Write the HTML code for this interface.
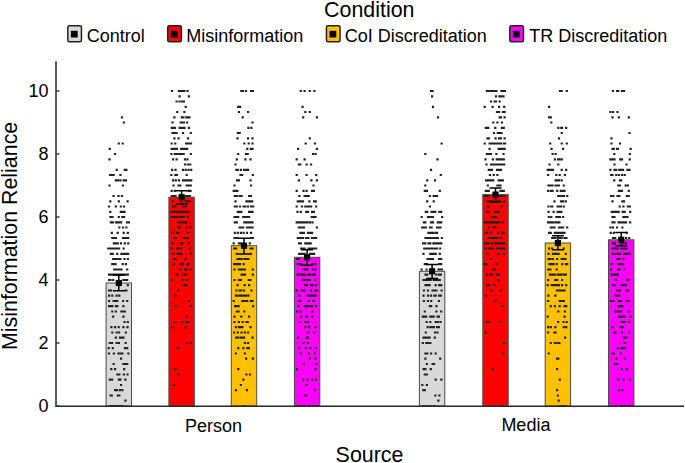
<!DOCTYPE html>
<html><head><meta charset="utf-8"><style>
html,body{margin:0;padding:0;background:#fff;width:685px;height:463px;overflow:hidden}
svg text{font-family:"Liberation Sans",sans-serif;fill:#000}
</style></head><body>
<svg width="685" height="463" viewBox="0 0 685 463" style="position:absolute;left:0;top:0"><rect x="106.10" y="283.00" width="25.4" height="123.00" fill="#d9d9d9" stroke="#4a4a4a" stroke-width="1"/><rect x="168.90" y="197.20" width="25.4" height="208.80" fill="#ff0000" stroke="#4a4a4a" stroke-width="1"/><rect x="231.30" y="245.70" width="25.4" height="160.30" fill="#ffc000" stroke="#4a4a4a" stroke-width="1"/><rect x="294.40" y="257.30" width="25.4" height="148.70" fill="#ff00ff" stroke="#4a4a4a" stroke-width="1"/><rect x="419.40" y="271.30" width="25.4" height="134.70" fill="#d9d9d9" stroke="#4a4a4a" stroke-width="1"/><rect x="482.80" y="194.60" width="25.4" height="211.40" fill="#ff0000" stroke="#4a4a4a" stroke-width="1"/><rect x="545.20" y="243.00" width="25.4" height="163.00" fill="#ffc000" stroke="#4a4a4a" stroke-width="1"/><rect x="608.50" y="239.80" width="25.4" height="166.20" fill="#ff00ff" stroke="#4a4a4a" stroke-width="1"/><path d="M120.9 116.2h2.2v2.2h-2.2zM122.7 121.4h2.2v2.2h-2.2zM117.7 142.4h2.2v2.2h-2.2zM121.6 142.4h2.2v2.2h-2.2zM108.7 147.7h2.2v2.2h-2.2zM113.9 152.9h2.2v2.2h-2.2zM108.4 158.2h2.2v2.2h-2.2zM115.6 168.7h2.2v2.2h-2.2zM123.7 168.7h2.2v2.2h-2.2zM125.3 168.7h2.2v2.2h-2.2zM109.0 173.9h2.2v2.2h-2.2zM110.7 173.9h2.2v2.2h-2.2zM112.5 173.9h2.2v2.2h-2.2zM119.3 173.9h2.2v2.2h-2.2zM114.8 179.2h2.2v2.2h-2.2zM116.9 179.2h2.2v2.2h-2.2zM119.3 179.2h2.2v2.2h-2.2zM122.6 179.2h2.2v2.2h-2.2zM124.8 179.2h2.2v2.2h-2.2zM108.4 184.4h2.2v2.2h-2.2zM121.8 184.4h2.2v2.2h-2.2zM112.5 194.9h2.2v2.2h-2.2zM117.4 194.9h2.2v2.2h-2.2zM120.9 194.9h2.2v2.2h-2.2zM109.2 200.2h2.2v2.2h-2.2zM117.7 200.2h2.2v2.2h-2.2zM126.5 200.2h2.2v2.2h-2.2zM107.9 205.4h2.2v2.2h-2.2zM114.7 205.4h2.2v2.2h-2.2zM119.7 205.4h2.2v2.2h-2.2zM122.9 205.4h2.2v2.2h-2.2zM109.2 210.7h2.2v2.2h-2.2zM119.7 210.7h2.2v2.2h-2.2zM121.6 210.7h2.2v2.2h-2.2zM123.4 210.7h2.2v2.2h-2.2zM109.4 215.9h2.2v2.2h-2.2zM111.4 215.9h2.2v2.2h-2.2zM117.7 215.9h2.2v2.2h-2.2zM121.2 215.9h2.2v2.2h-2.2zM123.0 215.9h2.2v2.2h-2.2zM109.8 221.2h2.2v2.2h-2.2zM111.7 221.2h2.2v2.2h-2.2zM114.8 221.2h2.2v2.2h-2.2zM116.6 221.2h2.2v2.2h-2.2zM118.2 221.2h2.2v2.2h-2.2zM120.0 221.2h2.2v2.2h-2.2zM126.1 221.2h2.2v2.2h-2.2zM127.8 221.2h2.2v2.2h-2.2zM118.2 226.4h2.2v2.2h-2.2zM122.0 226.4h2.2v2.2h-2.2zM125.3 226.4h2.2v2.2h-2.2zM110.7 231.7h2.2v2.2h-2.2zM116.6 231.7h2.2v2.2h-2.2zM122.6 231.7h2.2v2.2h-2.2zM126.7 231.7h2.2v2.2h-2.2zM111.2 236.9h2.2v2.2h-2.2zM112.8 236.9h2.2v2.2h-2.2zM114.8 236.9h2.2v2.2h-2.2zM122.0 236.9h2.2v2.2h-2.2zM123.7 236.9h2.2v2.2h-2.2zM125.3 236.9h2.2v2.2h-2.2zM127.1 236.9h2.2v2.2h-2.2zM112.8 242.2h2.2v2.2h-2.2zM114.4 242.2h2.2v2.2h-2.2zM116.6 242.2h2.2v2.2h-2.2zM119.9 242.2h2.2v2.2h-2.2zM123.7 242.2h2.2v2.2h-2.2zM127.2 242.2h2.2v2.2h-2.2zM107.3 247.4h2.2v2.2h-2.2zM109.0 247.4h2.2v2.2h-2.2zM110.7 247.4h2.2v2.2h-2.2zM112.5 247.4h2.2v2.2h-2.2zM114.4 247.4h2.2v2.2h-2.2zM116.2 247.4h2.2v2.2h-2.2zM118.0 247.4h2.2v2.2h-2.2zM122.6 247.4h2.2v2.2h-2.2zM109.8 252.7h2.2v2.2h-2.2zM111.7 252.7h2.2v2.2h-2.2zM116.2 252.7h2.2v2.2h-2.2zM120.3 252.7h2.2v2.2h-2.2zM122.0 252.7h2.2v2.2h-2.2zM123.7 252.7h2.2v2.2h-2.2zM125.3 252.7h2.2v2.2h-2.2zM127.1 252.7h2.2v2.2h-2.2zM112.1 257.9h2.2v2.2h-2.2zM113.9 257.9h2.2v2.2h-2.2zM115.5 257.9h2.2v2.2h-2.2zM117.5 257.9h2.2v2.2h-2.2zM119.3 257.9h2.2v2.2h-2.2zM123.4 257.9h2.2v2.2h-2.2zM126.7 257.9h2.2v2.2h-2.2zM111.2 263.1h2.2v2.2h-2.2zM113.1 263.1h2.2v2.2h-2.2zM114.4 263.1h2.2v2.2h-2.2zM121.6 263.1h2.2v2.2h-2.2zM124.8 263.1h2.2v2.2h-2.2zM113.1 268.4h2.2v2.2h-2.2zM114.8 268.4h2.2v2.2h-2.2zM116.9 268.4h2.2v2.2h-2.2zM118.9 268.4h2.2v2.2h-2.2zM120.3 268.4h2.2v2.2h-2.2zM126.1 268.4h2.2v2.2h-2.2zM108.0 273.6h2.2v2.2h-2.2zM109.8 273.6h2.2v2.2h-2.2zM111.4 273.6h2.2v2.2h-2.2zM113.1 273.6h2.2v2.2h-2.2zM114.8 273.6h2.2v2.2h-2.2zM116.6 273.6h2.2v2.2h-2.2zM118.2 273.6h2.2v2.2h-2.2zM120.3 273.6h2.2v2.2h-2.2zM122.0 273.6h2.2v2.2h-2.2zM123.7 273.6h2.2v2.2h-2.2zM125.3 273.6h2.2v2.2h-2.2zM126.7 273.6h2.2v2.2h-2.2zM108.0 278.9h2.2v2.2h-2.2zM109.4 278.9h2.2v2.2h-2.2zM112.1 278.9h2.2v2.2h-2.2zM122.3 278.9h2.2v2.2h-2.2zM124.4 278.9h2.2v2.2h-2.2zM126.1 278.9h2.2v2.2h-2.2zM126.7 284.1h2.2v2.2h-2.2zM108.0 289.4h2.2v2.2h-2.2zM109.8 289.4h2.2v2.2h-2.2zM124.4 289.4h2.2v2.2h-2.2zM125.3 289.4h2.2v2.2h-2.2zM108.0 294.6h2.2v2.2h-2.2zM111.2 294.6h2.2v2.2h-2.2zM115.5 294.6h2.2v2.2h-2.2zM118.2 294.6h2.2v2.2h-2.2zM108.0 299.9h2.2v2.2h-2.2zM112.5 299.9h2.2v2.2h-2.2zM114.4 299.9h2.2v2.2h-2.2zM116.2 299.9h2.2v2.2h-2.2zM122.0 299.9h2.2v2.2h-2.2zM126.1 299.9h2.2v2.2h-2.2zM108.0 305.1h2.2v2.2h-2.2zM109.8 305.1h2.2v2.2h-2.2zM111.2 305.1h2.2v2.2h-2.2zM114.8 305.1h2.2v2.2h-2.2zM116.2 305.1h2.2v2.2h-2.2zM122.3 305.1h2.2v2.2h-2.2zM111.2 310.4h2.2v2.2h-2.2zM114.8 310.4h2.2v2.2h-2.2zM120.3 310.4h2.2v2.2h-2.2zM122.0 310.4h2.2v2.2h-2.2zM123.7 310.4h2.2v2.2h-2.2zM112.1 315.6h2.2v2.2h-2.2zM122.3 315.6h2.2v2.2h-2.2zM123.4 320.9h2.2v2.2h-2.2zM126.7 320.9h2.2v2.2h-2.2zM110.3 326.1h2.2v2.2h-2.2zM113.9 326.1h2.2v2.2h-2.2zM117.5 326.1h2.2v2.2h-2.2zM122.3 326.1h2.2v2.2h-2.2zM126.4 326.1h2.2v2.2h-2.2zM111.2 331.4h2.2v2.2h-2.2zM115.5 331.4h2.2v2.2h-2.2zM118.0 331.4h2.2v2.2h-2.2zM124.8 331.4h2.2v2.2h-2.2zM114.8 336.6h2.2v2.2h-2.2zM118.9 336.6h2.2v2.2h-2.2zM120.9 336.6h2.2v2.2h-2.2zM122.3 336.6h2.2v2.2h-2.2zM108.7 341.9h2.2v2.2h-2.2zM111.0 341.9h2.2v2.2h-2.2zM115.5 341.9h2.2v2.2h-2.2zM117.8 341.9h2.2v2.2h-2.2zM124.6 341.9h2.2v2.2h-2.2zM107.6 347.1h2.2v2.2h-2.2zM111.7 347.1h2.2v2.2h-2.2zM123.8 347.1h2.2v2.2h-2.2zM126.1 347.1h2.2v2.2h-2.2zM107.9 352.4h2.2v2.2h-2.2zM112.8 352.4h2.2v2.2h-2.2zM117.3 352.4h2.2v2.2h-2.2zM119.3 352.4h2.2v2.2h-2.2zM121.3 352.4h2.2v2.2h-2.2zM127.3 352.4h2.2v2.2h-2.2zM120.0 357.6h2.2v2.2h-2.2zM112.5 362.9h2.2v2.2h-2.2zM122.3 362.9h2.2v2.2h-2.2zM124.3 362.9h2.2v2.2h-2.2zM126.1 362.9h2.2v2.2h-2.2zM110.2 368.1h2.2v2.2h-2.2zM114.0 368.1h2.2v2.2h-2.2zM123.1 368.1h2.2v2.2h-2.2zM116.3 373.4h2.2v2.2h-2.2zM118.2 373.4h2.2v2.2h-2.2zM122.8 373.4h2.2v2.2h-2.2zM126.4 373.4h2.2v2.2h-2.2zM108.7 378.6h2.2v2.2h-2.2zM111.0 378.6h2.2v2.2h-2.2zM117.8 378.6h2.2v2.2h-2.2zM119.3 378.6h2.2v2.2h-2.2zM124.3 378.6h2.2v2.2h-2.2zM120.0 383.9h2.2v2.2h-2.2zM114.0 389.1h2.2v2.2h-2.2zM115.8 389.1h2.2v2.2h-2.2zM118.8 389.1h2.2v2.2h-2.2zM121.3 389.1h2.2v2.2h-2.2zM109.5 394.4h2.2v2.2h-2.2zM110.7 394.4h2.2v2.2h-2.2zM116.7 394.4h2.2v2.2h-2.2zM118.2 394.4h2.2v2.2h-2.2zM124.3 399.6h2.2v2.2h-2.2zM109.5 404.9h2.2v2.2h-2.2zM111.7 404.9h2.2v2.2h-2.2zM114.0 404.9h2.2v2.2h-2.2zM116.3 404.9h2.2v2.2h-2.2zM118.5 404.9h2.2v2.2h-2.2zM120.8 404.9h2.2v2.2h-2.2zM170.9 89.9h2.2v2.2h-2.2zM177.8 89.9h2.2v2.2h-2.2zM179.6 89.9h2.2v2.2h-2.2zM181.5 89.9h2.2v2.2h-2.2zM183.3 89.9h2.2v2.2h-2.2zM186.4 89.9h2.2v2.2h-2.2zM178.5 95.2h2.2v2.2h-2.2zM187.8 95.2h2.2v2.2h-2.2zM175.5 100.4h2.2v2.2h-2.2zM178.5 100.4h2.2v2.2h-2.2zM181.0 100.4h2.2v2.2h-2.2zM182.9 100.4h2.2v2.2h-2.2zM184.6 105.7h2.2v2.2h-2.2zM176.1 110.9h2.2v2.2h-2.2zM183.3 110.9h2.2v2.2h-2.2zM173.3 116.2h2.2v2.2h-2.2zM180.7 116.2h2.2v2.2h-2.2zM182.3 116.2h2.2v2.2h-2.2zM185.3 116.2h2.2v2.2h-2.2zM186.9 116.2h2.2v2.2h-2.2zM188.3 116.2h2.2v2.2h-2.2zM171.4 121.4h2.2v2.2h-2.2zM179.6 121.4h2.2v2.2h-2.2zM181.2 121.4h2.2v2.2h-2.2zM182.9 121.4h2.2v2.2h-2.2zM186.0 121.4h2.2v2.2h-2.2zM170.6 126.7h2.2v2.2h-2.2zM172.4 126.7h2.2v2.2h-2.2zM173.9 126.7h2.2v2.2h-2.2zM178.5 126.7h2.2v2.2h-2.2zM180.1 126.7h2.2v2.2h-2.2zM181.9 126.7h2.2v2.2h-2.2zM183.4 126.7h2.2v2.2h-2.2zM187.8 126.7h2.2v2.2h-2.2zM171.4 131.9h2.2v2.2h-2.2zM173.3 131.9h2.2v2.2h-2.2zM175.5 131.9h2.2v2.2h-2.2zM181.9 131.9h2.2v2.2h-2.2zM189.7 131.9h2.2v2.2h-2.2zM173.3 137.2h2.2v2.2h-2.2zM177.4 137.2h2.2v2.2h-2.2zM186.9 137.2h2.2v2.2h-2.2zM170.6 142.4h2.2v2.2h-2.2zM174.2 142.4h2.2v2.2h-2.2zM185.0 142.4h2.2v2.2h-2.2zM186.7 142.4h2.2v2.2h-2.2zM188.3 142.4h2.2v2.2h-2.2zM189.9 142.4h2.2v2.2h-2.2zM170.6 147.7h2.2v2.2h-2.2zM172.4 147.7h2.2v2.2h-2.2zM174.2 147.7h2.2v2.2h-2.2zM175.8 147.7h2.2v2.2h-2.2zM180.1 147.7h2.2v2.2h-2.2zM181.9 147.7h2.2v2.2h-2.2zM183.9 147.7h2.2v2.2h-2.2zM186.0 147.7h2.2v2.2h-2.2zM170.3 152.9h2.2v2.2h-2.2zM173.7 152.9h2.2v2.2h-2.2zM175.5 152.9h2.2v2.2h-2.2zM177.4 152.9h2.2v2.2h-2.2zM179.2 152.9h2.2v2.2h-2.2zM181.0 152.9h2.2v2.2h-2.2zM182.6 152.9h2.2v2.2h-2.2zM189.7 152.9h2.2v2.2h-2.2zM172.0 158.2h2.2v2.2h-2.2zM175.5 158.2h2.2v2.2h-2.2zM183.9 158.2h2.2v2.2h-2.2zM186.4 158.2h2.2v2.2h-2.2zM183.9 163.4h2.2v2.2h-2.2zM186.7 163.4h2.2v2.2h-2.2zM189.1 163.4h2.2v2.2h-2.2zM171.0 168.7h2.2v2.2h-2.2zM174.4 168.7h2.2v2.2h-2.2zM181.9 168.7h2.2v2.2h-2.2zM184.6 168.7h2.2v2.2h-2.2zM187.4 168.7h2.2v2.2h-2.2zM190.1 168.7h2.2v2.2h-2.2zM170.3 173.9h2.2v2.2h-2.2zM174.2 173.9h2.2v2.2h-2.2zM175.8 173.9h2.2v2.2h-2.2zM185.6 173.9h2.2v2.2h-2.2zM172.0 179.2h2.2v2.2h-2.2zM174.7 179.2h2.2v2.2h-2.2zM177.8 179.2h2.2v2.2h-2.2zM181.9 179.2h2.2v2.2h-2.2zM183.9 179.2h2.2v2.2h-2.2zM186.0 179.2h2.2v2.2h-2.2zM188.0 179.2h2.2v2.2h-2.2zM190.1 179.2h2.2v2.2h-2.2zM172.4 184.4h2.2v2.2h-2.2zM177.4 184.4h2.2v2.2h-2.2zM179.2 184.4h2.2v2.2h-2.2zM185.6 184.4h2.2v2.2h-2.2zM187.8 184.4h2.2v2.2h-2.2zM189.7 184.4h2.2v2.2h-2.2zM170.6 189.7h2.2v2.2h-2.2zM173.7 189.7h2.2v2.2h-2.2zM187.4 189.7h2.2v2.2h-2.2zM189.4 189.7h2.2v2.2h-2.2zM170.6 194.9h2.2v2.2h-2.2zM172.4 194.9h2.2v2.2h-2.2zM174.4 194.9h2.2v2.2h-2.2zM184.6 194.9h2.2v2.2h-2.2zM186.7 194.9h2.2v2.2h-2.2zM188.7 194.9h2.2v2.2h-2.2zM171.7 200.2h2.2v2.2h-2.2zM184.6 200.2h2.2v2.2h-2.2zM186.7 200.2h2.2v2.2h-2.2zM188.7 200.2h2.2v2.2h-2.2zM172.0 205.4h2.2v2.2h-2.2zM174.2 205.4h2.2v2.2h-2.2zM182.6 205.4h2.2v2.2h-2.2zM185.0 205.4h2.2v2.2h-2.2zM170.6 210.7h2.2v2.2h-2.2zM173.1 210.7h2.2v2.2h-2.2zM175.1 210.7h2.2v2.2h-2.2zM177.1 210.7h2.2v2.2h-2.2zM179.2 210.7h2.2v2.2h-2.2zM181.2 210.7h2.2v2.2h-2.2zM183.3 210.7h2.2v2.2h-2.2zM185.3 210.7h2.2v2.2h-2.2zM187.4 210.7h2.2v2.2h-2.2zM170.6 215.9h2.2v2.2h-2.2zM172.4 215.9h2.2v2.2h-2.2zM174.4 215.9h2.2v2.2h-2.2zM175.8 215.9h2.2v2.2h-2.2zM178.5 215.9h2.2v2.2h-2.2zM180.5 215.9h2.2v2.2h-2.2zM182.6 215.9h2.2v2.2h-2.2zM186.7 215.9h2.2v2.2h-2.2zM177.4 221.2h2.2v2.2h-2.2zM179.9 221.2h2.2v2.2h-2.2zM181.9 221.2h2.2v2.2h-2.2zM183.9 221.2h2.2v2.2h-2.2zM185.3 221.2h2.2v2.2h-2.2zM177.4 226.4h2.2v2.2h-2.2zM178.8 226.4h2.2v2.2h-2.2zM185.6 226.4h2.2v2.2h-2.2zM189.1 226.4h2.2v2.2h-2.2zM171.4 231.7h2.2v2.2h-2.2zM175.8 231.7h2.2v2.2h-2.2zM177.1 231.7h2.2v2.2h-2.2zM186.7 231.7h2.2v2.2h-2.2zM173.7 236.9h2.2v2.2h-2.2zM174.7 236.9h2.2v2.2h-2.2zM182.6 236.9h2.2v2.2h-2.2zM184.6 236.9h2.2v2.2h-2.2zM186.7 236.9h2.2v2.2h-2.2zM171.4 242.2h2.2v2.2h-2.2zM179.9 242.2h2.2v2.2h-2.2zM181.2 242.2h2.2v2.2h-2.2zM187.8 242.2h2.2v2.2h-2.2zM170.6 247.4h2.2v2.2h-2.2zM176.1 247.4h2.2v2.2h-2.2zM177.4 247.4h2.2v2.2h-2.2zM179.9 247.4h2.2v2.2h-2.2zM188.7 247.4h2.2v2.2h-2.2zM172.4 252.7h2.2v2.2h-2.2zM176.5 252.7h2.2v2.2h-2.2zM178.5 252.7h2.2v2.2h-2.2zM180.5 252.7h2.2v2.2h-2.2zM189.7 252.7h2.2v2.2h-2.2zM172.8 257.9h2.2v2.2h-2.2zM174.2 257.9h2.2v2.2h-2.2zM184.6 257.9h2.2v2.2h-2.2zM172.8 263.1h2.2v2.2h-2.2zM179.9 263.1h2.2v2.2h-2.2zM181.9 263.1h2.2v2.2h-2.2zM186.0 263.1h2.2v2.2h-2.2zM187.8 263.1h2.2v2.2h-2.2zM179.2 268.4h2.2v2.2h-2.2zM183.9 268.4h2.2v2.2h-2.2zM185.6 268.4h2.2v2.2h-2.2zM189.1 268.4h2.2v2.2h-2.2zM176.1 273.6h2.2v2.2h-2.2zM182.6 273.6h2.2v2.2h-2.2zM184.6 273.6h2.2v2.2h-2.2zM171.0 278.9h2.2v2.2h-2.2zM181.0 278.9h2.2v2.2h-2.2zM185.6 278.9h2.2v2.2h-2.2zM182.9 284.1h2.2v2.2h-2.2zM185.3 284.1h2.2v2.2h-2.2zM177.1 289.4h2.2v2.2h-2.2zM174.2 294.6h2.2v2.2h-2.2zM187.8 299.9h2.2v2.2h-2.2zM174.7 305.1h2.2v2.2h-2.2zM189.7 305.1h2.2v2.2h-2.2zM185.3 315.6h2.2v2.2h-2.2zM174.2 320.9h2.2v2.2h-2.2zM181.2 320.9h2.2v2.2h-2.2zM185.6 320.9h2.2v2.2h-2.2zM186.9 320.9h2.2v2.2h-2.2zM171.7 326.1h2.2v2.2h-2.2zM184.6 326.1h2.2v2.2h-2.2zM185.3 341.9h2.2v2.2h-2.2zM189.8 341.9h2.2v2.2h-2.2zM176.7 347.1h2.2v2.2h-2.2zM174.3 368.1h2.2v2.2h-2.2zM177.0 373.4h2.2v2.2h-2.2zM172.8 383.9h2.2v2.2h-2.2zM240.2 89.9h2.2v2.2h-2.2zM241.9 89.9h2.2v2.2h-2.2zM244.9 89.9h2.2v2.2h-2.2zM250.0 89.9h2.2v2.2h-2.2zM251.8 89.9h2.2v2.2h-2.2zM237.1 105.7h2.2v2.2h-2.2zM239.1 105.7h2.2v2.2h-2.2zM237.8 110.9h2.2v2.2h-2.2zM247.0 110.9h2.2v2.2h-2.2zM241.6 116.2h2.2v2.2h-2.2zM251.4 121.4h2.2v2.2h-2.2zM247.3 126.7h2.2v2.2h-2.2zM250.3 126.7h2.2v2.2h-2.2zM236.7 131.9h2.2v2.2h-2.2zM238.6 131.9h2.2v2.2h-2.2zM236.4 137.2h2.2v2.2h-2.2zM247.0 137.2h2.2v2.2h-2.2zM251.4 137.2h2.2v2.2h-2.2zM243.2 142.4h2.2v2.2h-2.2zM247.6 142.4h2.2v2.2h-2.2zM251.4 142.4h2.2v2.2h-2.2zM246.2 147.7h2.2v2.2h-2.2zM249.8 147.7h2.2v2.2h-2.2zM251.4 147.7h2.2v2.2h-2.2zM237.1 152.9h2.2v2.2h-2.2zM244.9 152.9h2.2v2.2h-2.2zM246.6 152.9h2.2v2.2h-2.2zM235.7 158.2h2.2v2.2h-2.2zM244.3 158.2h2.2v2.2h-2.2zM249.4 158.2h2.2v2.2h-2.2zM234.4 163.4h2.2v2.2h-2.2zM235.3 168.7h2.2v2.2h-2.2zM236.7 168.7h2.2v2.2h-2.2zM239.8 168.7h2.2v2.2h-2.2zM243.0 168.7h2.2v2.2h-2.2zM245.3 168.7h2.2v2.2h-2.2zM247.0 168.7h2.2v2.2h-2.2zM239.4 173.9h2.2v2.2h-2.2zM241.1 173.9h2.2v2.2h-2.2zM251.7 173.9h2.2v2.2h-2.2zM235.9 179.2h2.2v2.2h-2.2zM237.8 179.2h2.2v2.2h-2.2zM249.4 179.2h2.2v2.2h-2.2zM233.4 184.4h2.2v2.2h-2.2zM250.0 184.4h2.2v2.2h-2.2zM232.6 189.7h2.2v2.2h-2.2zM234.4 189.7h2.2v2.2h-2.2zM236.2 189.7h2.2v2.2h-2.2zM233.7 194.9h2.2v2.2h-2.2zM235.7 194.9h2.2v2.2h-2.2zM238.5 194.9h2.2v2.2h-2.2zM240.5 194.9h2.2v2.2h-2.2zM248.0 194.9h2.2v2.2h-2.2zM249.8 194.9h2.2v2.2h-2.2zM234.4 200.2h2.2v2.2h-2.2zM245.3 200.2h2.2v2.2h-2.2zM247.3 200.2h2.2v2.2h-2.2zM249.4 200.2h2.2v2.2h-2.2zM251.1 200.2h2.2v2.2h-2.2zM233.7 205.4h2.2v2.2h-2.2zM235.7 205.4h2.2v2.2h-2.2zM238.9 205.4h2.2v2.2h-2.2zM242.5 205.4h2.2v2.2h-2.2zM244.3 205.4h2.2v2.2h-2.2zM247.0 205.4h2.2v2.2h-2.2zM250.0 205.4h2.2v2.2h-2.2zM252.1 205.4h2.2v2.2h-2.2zM236.7 210.7h2.2v2.2h-2.2zM238.5 210.7h2.2v2.2h-2.2zM240.2 210.7h2.2v2.2h-2.2zM248.0 210.7h2.2v2.2h-2.2zM250.0 210.7h2.2v2.2h-2.2zM251.4 210.7h2.2v2.2h-2.2zM233.4 215.9h2.2v2.2h-2.2zM235.1 215.9h2.2v2.2h-2.2zM237.1 215.9h2.2v2.2h-2.2zM242.1 215.9h2.2v2.2h-2.2zM243.9 215.9h2.2v2.2h-2.2zM245.9 215.9h2.2v2.2h-2.2zM248.0 215.9h2.2v2.2h-2.2zM233.7 221.2h2.2v2.2h-2.2zM235.7 221.2h2.2v2.2h-2.2zM243.2 221.2h2.2v2.2h-2.2zM245.3 221.2h2.2v2.2h-2.2zM247.3 221.2h2.2v2.2h-2.2zM249.4 221.2h2.2v2.2h-2.2zM251.4 221.2h2.2v2.2h-2.2zM238.5 226.4h2.2v2.2h-2.2zM240.2 226.4h2.2v2.2h-2.2zM242.1 226.4h2.2v2.2h-2.2zM245.9 226.4h2.2v2.2h-2.2zM248.0 226.4h2.2v2.2h-2.2zM250.0 226.4h2.2v2.2h-2.2zM251.4 226.4h2.2v2.2h-2.2zM233.7 231.7h2.2v2.2h-2.2zM236.7 231.7h2.2v2.2h-2.2zM239.8 231.7h2.2v2.2h-2.2zM242.5 231.7h2.2v2.2h-2.2zM245.9 231.7h2.2v2.2h-2.2zM250.0 231.7h2.2v2.2h-2.2zM233.4 236.9h2.2v2.2h-2.2zM234.8 236.9h2.2v2.2h-2.2zM236.2 236.9h2.2v2.2h-2.2zM250.0 236.9h2.2v2.2h-2.2zM251.7 236.9h2.2v2.2h-2.2zM232.6 242.2h2.2v2.2h-2.2zM237.8 242.2h2.2v2.2h-2.2zM239.4 242.2h2.2v2.2h-2.2zM248.7 242.2h2.2v2.2h-2.2zM233.0 247.4h2.2v2.2h-2.2zM235.1 247.4h2.2v2.2h-2.2zM249.4 247.4h2.2v2.2h-2.2zM251.4 247.4h2.2v2.2h-2.2zM235.7 252.7h2.2v2.2h-2.2zM249.8 252.7h2.2v2.2h-2.2zM236.4 257.9h2.2v2.2h-2.2zM238.5 257.9h2.2v2.2h-2.2zM240.5 257.9h2.2v2.2h-2.2zM243.2 257.9h2.2v2.2h-2.2zM245.3 257.9h2.2v2.2h-2.2zM247.3 257.9h2.2v2.2h-2.2zM233.0 263.1h2.2v2.2h-2.2zM235.1 263.1h2.2v2.2h-2.2zM237.1 263.1h2.2v2.2h-2.2zM238.9 263.1h2.2v2.2h-2.2zM242.5 263.1h2.2v2.2h-2.2zM233.4 268.4h2.2v2.2h-2.2zM237.8 268.4h2.2v2.2h-2.2zM239.8 268.4h2.2v2.2h-2.2zM241.9 268.4h2.2v2.2h-2.2zM243.9 268.4h2.2v2.2h-2.2zM251.7 268.4h2.2v2.2h-2.2zM240.5 273.6h2.2v2.2h-2.2zM242.1 273.6h2.2v2.2h-2.2zM243.9 273.6h2.2v2.2h-2.2zM251.7 273.6h2.2v2.2h-2.2zM233.4 278.9h2.2v2.2h-2.2zM237.8 278.9h2.2v2.2h-2.2zM239.8 278.9h2.2v2.2h-2.2zM247.6 278.9h2.2v2.2h-2.2zM249.4 278.9h2.2v2.2h-2.2zM236.4 284.1h2.2v2.2h-2.2zM243.5 284.1h2.2v2.2h-2.2zM248.0 284.1h2.2v2.2h-2.2zM235.3 289.4h2.2v2.2h-2.2zM238.5 289.4h2.2v2.2h-2.2zM240.2 289.4h2.2v2.2h-2.2zM243.0 289.4h2.2v2.2h-2.2zM250.3 289.4h2.2v2.2h-2.2zM234.8 294.6h2.2v2.2h-2.2zM236.4 294.6h2.2v2.2h-2.2zM238.9 294.6h2.2v2.2h-2.2zM240.8 294.6h2.2v2.2h-2.2zM243.0 294.6h2.2v2.2h-2.2zM244.9 294.6h2.2v2.2h-2.2zM247.3 294.6h2.2v2.2h-2.2zM232.6 299.9h2.2v2.2h-2.2zM241.2 299.9h2.2v2.2h-2.2zM243.0 299.9h2.2v2.2h-2.2zM244.6 299.9h2.2v2.2h-2.2zM246.2 299.9h2.2v2.2h-2.2zM249.8 299.9h2.2v2.2h-2.2zM251.4 299.9h2.2v2.2h-2.2zM234.0 305.1h2.2v2.2h-2.2zM235.7 305.1h2.2v2.2h-2.2zM237.5 305.1h2.2v2.2h-2.2zM252.1 305.1h2.2v2.2h-2.2zM235.7 310.4h2.2v2.2h-2.2zM237.5 310.4h2.2v2.2h-2.2zM243.2 310.4h2.2v2.2h-2.2zM233.4 315.6h2.2v2.2h-2.2zM240.2 315.6h2.2v2.2h-2.2zM248.0 315.6h2.2v2.2h-2.2zM233.4 320.9h2.2v2.2h-2.2zM237.8 320.9h2.2v2.2h-2.2zM241.6 320.9h2.2v2.2h-2.2zM245.3 320.9h2.2v2.2h-2.2zM246.6 320.9h2.2v2.2h-2.2zM234.8 326.1h2.2v2.2h-2.2zM237.8 326.1h2.2v2.2h-2.2zM239.4 326.1h2.2v2.2h-2.2zM241.2 326.1h2.2v2.2h-2.2zM249.4 326.1h2.2v2.2h-2.2zM233.0 331.4h2.2v2.2h-2.2zM236.7 331.4h2.2v2.2h-2.2zM240.5 331.4h2.2v2.2h-2.2zM243.9 331.4h2.2v2.2h-2.2zM247.0 331.4h2.2v2.2h-2.2zM235.1 336.6h2.2v2.2h-2.2zM236.7 336.6h2.2v2.2h-2.2zM239.4 336.6h2.2v2.2h-2.2zM241.2 336.6h2.2v2.2h-2.2zM243.0 336.6h2.2v2.2h-2.2zM251.4 336.6h2.2v2.2h-2.2zM243.8 341.9h2.2v2.2h-2.2zM246.9 341.9h2.2v2.2h-2.2zM237.2 347.1h2.2v2.2h-2.2zM242.3 347.1h2.2v2.2h-2.2zM246.3 347.1h2.2v2.2h-2.2zM247.8 347.1h2.2v2.2h-2.2zM234.8 352.4h2.2v2.2h-2.2zM243.8 352.4h2.2v2.2h-2.2zM245.0 357.6h2.2v2.2h-2.2zM251.8 357.6h2.2v2.2h-2.2zM237.2 368.1h2.2v2.2h-2.2zM245.3 373.4h2.2v2.2h-2.2zM248.8 373.4h2.2v2.2h-2.2zM242.3 378.6h2.2v2.2h-2.2zM239.8 383.9h2.2v2.2h-2.2zM234.8 389.1h2.2v2.2h-2.2zM245.8 389.1h2.2v2.2h-2.2zM242.3 404.9h2.2v2.2h-2.2zM299.7 89.9h2.2v2.2h-2.2zM303.5 89.9h2.2v2.2h-2.2zM308.7 89.9h2.2v2.2h-2.2zM313.3 89.9h2.2v2.2h-2.2zM301.5 105.7h2.2v2.2h-2.2zM304.2 110.9h2.2v2.2h-2.2zM308.7 110.9h2.2v2.2h-2.2zM302.1 116.2h2.2v2.2h-2.2zM315.8 116.2h2.2v2.2h-2.2zM308.7 137.2h2.2v2.2h-2.2zM304.6 142.4h2.2v2.2h-2.2zM313.8 142.4h2.2v2.2h-2.2zM297.0 147.7h2.2v2.2h-2.2zM315.8 147.7h2.2v2.2h-2.2zM311.9 152.9h2.2v2.2h-2.2zM314.4 152.9h2.2v2.2h-2.2zM295.6 158.2h2.2v2.2h-2.2zM303.5 158.2h2.2v2.2h-2.2zM297.8 163.4h2.2v2.2h-2.2zM299.2 163.4h2.2v2.2h-2.2zM305.5 163.4h2.2v2.2h-2.2zM310.0 163.4h2.2v2.2h-2.2zM295.6 173.9h2.2v2.2h-2.2zM305.5 173.9h2.2v2.2h-2.2zM315.1 173.9h2.2v2.2h-2.2zM297.8 179.2h2.2v2.2h-2.2zM310.3 179.2h2.2v2.2h-2.2zM315.8 179.2h2.2v2.2h-2.2zM312.4 184.4h2.2v2.2h-2.2zM295.6 189.7h2.2v2.2h-2.2zM302.4 189.7h2.2v2.2h-2.2zM305.5 189.7h2.2v2.2h-2.2zM311.0 189.7h2.2v2.2h-2.2zM312.8 189.7h2.2v2.2h-2.2zM298.3 194.9h2.2v2.2h-2.2zM303.5 194.9h2.2v2.2h-2.2zM305.5 194.9h2.2v2.2h-2.2zM307.6 194.9h2.2v2.2h-2.2zM296.7 200.2h2.2v2.2h-2.2zM298.3 200.2h2.2v2.2h-2.2zM299.7 200.2h2.2v2.2h-2.2zM301.9 200.2h2.2v2.2h-2.2zM308.3 200.2h2.2v2.2h-2.2zM313.0 200.2h2.2v2.2h-2.2zM314.7 200.2h2.2v2.2h-2.2zM295.6 205.4h2.2v2.2h-2.2zM300.8 205.4h2.2v2.2h-2.2zM304.2 205.4h2.2v2.2h-2.2zM306.0 205.4h2.2v2.2h-2.2zM307.9 205.4h2.2v2.2h-2.2zM310.0 205.4h2.2v2.2h-2.2zM315.1 205.4h2.2v2.2h-2.2zM296.4 210.7h2.2v2.2h-2.2zM299.7 210.7h2.2v2.2h-2.2zM305.1 210.7h2.2v2.2h-2.2zM306.9 210.7h2.2v2.2h-2.2zM311.0 210.7h2.2v2.2h-2.2zM312.8 210.7h2.2v2.2h-2.2zM310.6 215.9h2.2v2.2h-2.2zM312.4 215.9h2.2v2.2h-2.2zM314.4 215.9h2.2v2.2h-2.2zM295.6 221.2h2.2v2.2h-2.2zM297.4 221.2h2.2v2.2h-2.2zM299.2 221.2h2.2v2.2h-2.2zM300.8 221.2h2.2v2.2h-2.2zM302.8 221.2h2.2v2.2h-2.2zM304.6 221.2h2.2v2.2h-2.2zM306.5 221.2h2.2v2.2h-2.2zM308.9 221.2h2.2v2.2h-2.2zM311.4 221.2h2.2v2.2h-2.2zM297.8 226.4h2.2v2.2h-2.2zM299.7 226.4h2.2v2.2h-2.2zM301.5 226.4h2.2v2.2h-2.2zM302.8 226.4h2.2v2.2h-2.2zM315.8 226.4h2.2v2.2h-2.2zM299.4 231.7h2.2v2.2h-2.2zM301.1 231.7h2.2v2.2h-2.2zM302.8 231.7h2.2v2.2h-2.2zM306.9 231.7h2.2v2.2h-2.2zM308.9 231.7h2.2v2.2h-2.2zM311.0 231.7h2.2v2.2h-2.2zM296.7 236.9h2.2v2.2h-2.2zM298.3 236.9h2.2v2.2h-2.2zM300.1 236.9h2.2v2.2h-2.2zM302.1 236.9h2.2v2.2h-2.2zM305.1 236.9h2.2v2.2h-2.2zM307.3 236.9h2.2v2.2h-2.2zM311.0 236.9h2.2v2.2h-2.2zM313.3 236.9h2.2v2.2h-2.2zM315.1 236.9h2.2v2.2h-2.2zM298.1 242.2h2.2v2.2h-2.2zM299.7 242.2h2.2v2.2h-2.2zM304.2 242.2h2.2v2.2h-2.2zM306.2 242.2h2.2v2.2h-2.2zM308.3 242.2h2.2v2.2h-2.2zM309.6 242.2h2.2v2.2h-2.2zM300.1 247.4h2.2v2.2h-2.2zM301.9 247.4h2.2v2.2h-2.2zM303.5 247.4h2.2v2.2h-2.2zM307.6 247.4h2.2v2.2h-2.2zM309.6 247.4h2.2v2.2h-2.2zM311.7 247.4h2.2v2.2h-2.2zM313.7 247.4h2.2v2.2h-2.2zM315.1 247.4h2.2v2.2h-2.2zM298.1 252.7h2.2v2.2h-2.2zM299.7 252.7h2.2v2.2h-2.2zM301.5 252.7h2.2v2.2h-2.2zM303.5 252.7h2.2v2.2h-2.2zM308.9 252.7h2.2v2.2h-2.2zM311.0 252.7h2.2v2.2h-2.2zM313.0 252.7h2.2v2.2h-2.2zM296.0 257.9h2.2v2.2h-2.2zM297.8 257.9h2.2v2.2h-2.2zM296.7 263.1h2.2v2.2h-2.2zM298.3 263.1h2.2v2.2h-2.2zM300.1 263.1h2.2v2.2h-2.2zM311.4 263.1h2.2v2.2h-2.2zM314.4 263.1h2.2v2.2h-2.2zM302.8 268.4h2.2v2.2h-2.2zM304.6 268.4h2.2v2.2h-2.2zM306.2 268.4h2.2v2.2h-2.2zM311.7 268.4h2.2v2.2h-2.2zM314.4 268.4h2.2v2.2h-2.2zM296.7 273.6h2.2v2.2h-2.2zM298.3 273.6h2.2v2.2h-2.2zM300.1 273.6h2.2v2.2h-2.2zM301.9 273.6h2.2v2.2h-2.2zM303.5 273.6h2.2v2.2h-2.2zM306.9 273.6h2.2v2.2h-2.2zM308.9 273.6h2.2v2.2h-2.2zM311.7 273.6h2.2v2.2h-2.2zM313.7 273.6h2.2v2.2h-2.2zM301.9 278.9h2.2v2.2h-2.2zM303.5 278.9h2.2v2.2h-2.2zM305.5 278.9h2.2v2.2h-2.2zM307.6 278.9h2.2v2.2h-2.2zM308.9 278.9h2.2v2.2h-2.2zM314.4 278.9h2.2v2.2h-2.2zM303.8 284.1h2.2v2.2h-2.2zM306.0 284.1h2.2v2.2h-2.2zM310.0 284.1h2.2v2.2h-2.2zM311.7 284.1h2.2v2.2h-2.2zM315.1 284.1h2.2v2.2h-2.2zM295.6 289.4h2.2v2.2h-2.2zM300.5 289.4h2.2v2.2h-2.2zM302.4 289.4h2.2v2.2h-2.2zM303.5 289.4h2.2v2.2h-2.2zM310.0 289.4h2.2v2.2h-2.2zM314.1 289.4h2.2v2.2h-2.2zM315.8 289.4h2.2v2.2h-2.2zM298.3 294.6h2.2v2.2h-2.2zM306.5 294.6h2.2v2.2h-2.2zM308.3 294.6h2.2v2.2h-2.2zM310.3 294.6h2.2v2.2h-2.2zM312.4 294.6h2.2v2.2h-2.2zM314.4 294.6h2.2v2.2h-2.2zM298.1 299.9h2.2v2.2h-2.2zM299.7 299.9h2.2v2.2h-2.2zM307.6 299.9h2.2v2.2h-2.2zM312.4 299.9h2.2v2.2h-2.2zM297.8 305.1h2.2v2.2h-2.2zM303.5 305.1h2.2v2.2h-2.2zM305.1 305.1h2.2v2.2h-2.2zM306.9 305.1h2.2v2.2h-2.2zM309.6 305.1h2.2v2.2h-2.2zM311.0 305.1h2.2v2.2h-2.2zM314.7 305.1h2.2v2.2h-2.2zM296.0 310.4h2.2v2.2h-2.2zM299.2 310.4h2.2v2.2h-2.2zM311.4 310.4h2.2v2.2h-2.2zM300.1 315.6h2.2v2.2h-2.2zM305.5 315.6h2.2v2.2h-2.2zM311.0 315.6h2.2v2.2h-2.2zM298.7 320.9h2.2v2.2h-2.2zM304.2 320.9h2.2v2.2h-2.2zM306.9 320.9h2.2v2.2h-2.2zM304.2 326.1h2.2v2.2h-2.2zM307.9 326.1h2.2v2.2h-2.2zM314.4 326.1h2.2v2.2h-2.2zM307.3 331.4h2.2v2.2h-2.2zM313.0 331.4h2.2v2.2h-2.2zM297.0 336.6h2.2v2.2h-2.2zM305.5 336.6h2.2v2.2h-2.2zM306.9 336.6h2.2v2.2h-2.2zM302.3 341.9h2.2v2.2h-2.2zM306.8 341.9h2.2v2.2h-2.2zM298.2 347.1h2.2v2.2h-2.2zM304.7 347.1h2.2v2.2h-2.2zM309.3 347.1h2.2v2.2h-2.2zM314.8 347.1h2.2v2.2h-2.2zM299.7 352.4h2.2v2.2h-2.2zM307.7 352.4h2.2v2.2h-2.2zM313.3 352.4h2.2v2.2h-2.2zM308.8 357.6h2.2v2.2h-2.2zM314.4 357.6h2.2v2.2h-2.2zM302.8 362.9h2.2v2.2h-2.2zM315.3 362.9h2.2v2.2h-2.2zM295.9 368.1h2.2v2.2h-2.2zM314.4 368.1h2.2v2.2h-2.2zM302.0 378.6h2.2v2.2h-2.2zM306.8 378.6h2.2v2.2h-2.2zM311.1 378.6h2.2v2.2h-2.2zM314.8 378.6h2.2v2.2h-2.2zM305.3 383.9h2.2v2.2h-2.2zM313.8 389.1h2.2v2.2h-2.2zM303.8 394.4h2.2v2.2h-2.2zM305.0 394.4h2.2v2.2h-2.2zM296.7 404.9h2.2v2.2h-2.2zM299.7 404.9h2.2v2.2h-2.2zM302.8 404.9h2.2v2.2h-2.2zM308.0 404.9h2.2v2.2h-2.2zM311.8 404.9h2.2v2.2h-2.2zM315.6 404.9h2.2v2.2h-2.2zM429.9 89.9h2.2v2.2h-2.2zM431.5 89.9h2.2v2.2h-2.2zM431.0 95.2h2.2v2.2h-2.2zM431.9 105.7h2.2v2.2h-2.2zM436.9 116.2h2.2v2.2h-2.2zM440.5 142.4h2.2v2.2h-2.2zM424.2 152.9h2.2v2.2h-2.2zM436.4 158.2h2.2v2.2h-2.2zM429.9 168.7h2.2v2.2h-2.2zM439.7 173.9h2.2v2.2h-2.2zM426.1 179.2h2.2v2.2h-2.2zM433.9 179.2h2.2v2.2h-2.2zM424.2 184.4h2.2v2.2h-2.2zM423.7 189.7h2.2v2.2h-2.2zM425.8 189.7h2.2v2.2h-2.2zM438.7 189.7h2.2v2.2h-2.2zM428.8 194.9h2.2v2.2h-2.2zM432.6 194.9h2.2v2.2h-2.2zM434.6 194.9h2.2v2.2h-2.2zM436.0 194.9h2.2v2.2h-2.2zM426.1 200.2h2.2v2.2h-2.2zM432.6 200.2h2.2v2.2h-2.2zM428.8 205.4h2.2v2.2h-2.2zM424.7 210.7h2.2v2.2h-2.2zM426.1 210.7h2.2v2.2h-2.2zM430.5 210.7h2.2v2.2h-2.2zM432.3 210.7h2.2v2.2h-2.2zM434.2 210.7h2.2v2.2h-2.2zM438.3 210.7h2.2v2.2h-2.2zM440.1 210.7h2.2v2.2h-2.2zM420.6 215.9h2.2v2.2h-2.2zM426.9 215.9h2.2v2.2h-2.2zM428.5 215.9h2.2v2.2h-2.2zM430.1 215.9h2.2v2.2h-2.2zM431.9 215.9h2.2v2.2h-2.2zM441.0 215.9h2.2v2.2h-2.2zM422.8 221.2h2.2v2.2h-2.2zM424.2 221.2h2.2v2.2h-2.2zM429.9 221.2h2.2v2.2h-2.2zM431.9 221.2h2.2v2.2h-2.2zM436.7 221.2h2.2v2.2h-2.2zM438.3 221.2h2.2v2.2h-2.2zM440.1 221.2h2.2v2.2h-2.2zM421.0 226.4h2.2v2.2h-2.2zM422.8 226.4h2.2v2.2h-2.2zM424.7 226.4h2.2v2.2h-2.2zM428.8 226.4h2.2v2.2h-2.2zM430.5 226.4h2.2v2.2h-2.2zM436.0 226.4h2.2v2.2h-2.2zM437.8 226.4h2.2v2.2h-2.2zM439.4 226.4h2.2v2.2h-2.2zM427.4 231.7h2.2v2.2h-2.2zM429.2 231.7h2.2v2.2h-2.2zM431.0 231.7h2.2v2.2h-2.2zM432.6 231.7h2.2v2.2h-2.2zM435.0 231.7h2.2v2.2h-2.2zM436.0 231.7h2.2v2.2h-2.2zM424.4 236.9h2.2v2.2h-2.2zM426.1 236.9h2.2v2.2h-2.2zM427.8 236.9h2.2v2.2h-2.2zM429.6 236.9h2.2v2.2h-2.2zM431.2 236.9h2.2v2.2h-2.2zM433.3 236.9h2.2v2.2h-2.2zM435.3 236.9h2.2v2.2h-2.2zM436.7 236.9h2.2v2.2h-2.2zM440.8 236.9h2.2v2.2h-2.2zM422.0 242.2h2.2v2.2h-2.2zM424.2 242.2h2.2v2.2h-2.2zM427.4 242.2h2.2v2.2h-2.2zM429.2 242.2h2.2v2.2h-2.2zM432.3 242.2h2.2v2.2h-2.2zM433.9 242.2h2.2v2.2h-2.2zM436.0 242.2h2.2v2.2h-2.2zM438.0 242.2h2.2v2.2h-2.2zM440.1 242.2h2.2v2.2h-2.2zM423.1 247.4h2.2v2.2h-2.2zM424.7 247.4h2.2v2.2h-2.2zM426.9 247.4h2.2v2.2h-2.2zM428.5 247.4h2.2v2.2h-2.2zM430.5 247.4h2.2v2.2h-2.2zM432.3 247.4h2.2v2.2h-2.2zM433.9 247.4h2.2v2.2h-2.2zM436.0 247.4h2.2v2.2h-2.2zM439.1 247.4h2.2v2.2h-2.2zM422.4 252.7h2.2v2.2h-2.2zM429.2 252.7h2.2v2.2h-2.2zM431.2 252.7h2.2v2.2h-2.2zM433.3 252.7h2.2v2.2h-2.2zM434.6 252.7h2.2v2.2h-2.2zM438.7 252.7h2.2v2.2h-2.2zM426.5 257.9h2.2v2.2h-2.2zM428.2 257.9h2.2v2.2h-2.2zM430.1 257.9h2.2v2.2h-2.2zM431.9 257.9h2.2v2.2h-2.2zM438.0 257.9h2.2v2.2h-2.2zM440.1 257.9h2.2v2.2h-2.2zM423.7 263.1h2.2v2.2h-2.2zM425.8 263.1h2.2v2.2h-2.2zM438.0 263.1h2.2v2.2h-2.2zM440.1 263.1h2.2v2.2h-2.2zM420.6 268.4h2.2v2.2h-2.2zM425.5 268.4h2.2v2.2h-2.2zM437.4 268.4h2.2v2.2h-2.2zM439.4 268.4h2.2v2.2h-2.2zM440.8 268.4h2.2v2.2h-2.2zM424.4 273.6h2.2v2.2h-2.2zM426.1 273.6h2.2v2.2h-2.2zM435.3 273.6h2.2v2.2h-2.2zM438.0 273.6h2.2v2.2h-2.2zM439.7 273.6h2.2v2.2h-2.2zM422.4 278.9h2.2v2.2h-2.2zM424.2 278.9h2.2v2.2h-2.2zM425.8 278.9h2.2v2.2h-2.2zM427.8 278.9h2.2v2.2h-2.2zM429.6 278.9h2.2v2.2h-2.2zM432.6 278.9h2.2v2.2h-2.2zM434.6 278.9h2.2v2.2h-2.2zM436.7 278.9h2.2v2.2h-2.2zM438.7 278.9h2.2v2.2h-2.2zM424.4 284.1h2.2v2.2h-2.2zM426.5 284.1h2.2v2.2h-2.2zM428.5 284.1h2.2v2.2h-2.2zM434.6 284.1h2.2v2.2h-2.2zM438.0 284.1h2.2v2.2h-2.2zM440.1 284.1h2.2v2.2h-2.2zM422.8 289.4h2.2v2.2h-2.2zM426.9 289.4h2.2v2.2h-2.2zM431.5 289.4h2.2v2.2h-2.2zM433.7 289.4h2.2v2.2h-2.2zM435.3 289.4h2.2v2.2h-2.2zM440.5 289.4h2.2v2.2h-2.2zM422.4 294.6h2.2v2.2h-2.2zM426.9 294.6h2.2v2.2h-2.2zM429.9 294.6h2.2v2.2h-2.2zM433.3 294.6h2.2v2.2h-2.2zM434.6 294.6h2.2v2.2h-2.2zM438.0 294.6h2.2v2.2h-2.2zM439.7 294.6h2.2v2.2h-2.2zM422.8 299.9h2.2v2.2h-2.2zM426.9 299.9h2.2v2.2h-2.2zM430.1 299.9h2.2v2.2h-2.2zM437.8 299.9h2.2v2.2h-2.2zM428.8 305.1h2.2v2.2h-2.2zM430.1 305.1h2.2v2.2h-2.2zM435.3 305.1h2.2v2.2h-2.2zM423.7 310.4h2.2v2.2h-2.2zM435.3 310.4h2.2v2.2h-2.2zM440.1 310.4h2.2v2.2h-2.2zM421.7 315.6h2.2v2.2h-2.2zM423.3 315.6h2.2v2.2h-2.2zM425.1 315.6h2.2v2.2h-2.2zM429.2 315.6h2.2v2.2h-2.2zM431.0 315.6h2.2v2.2h-2.2zM432.6 315.6h2.2v2.2h-2.2zM436.4 315.6h2.2v2.2h-2.2zM437.8 315.6h2.2v2.2h-2.2zM425.5 320.9h2.2v2.2h-2.2zM429.2 320.9h2.2v2.2h-2.2zM434.6 320.9h2.2v2.2h-2.2zM436.7 320.9h2.2v2.2h-2.2zM439.4 320.9h2.2v2.2h-2.2zM426.5 326.1h2.2v2.2h-2.2zM429.2 326.1h2.2v2.2h-2.2zM431.0 326.1h2.2v2.2h-2.2zM432.9 326.1h2.2v2.2h-2.2zM436.0 326.1h2.2v2.2h-2.2zM437.8 326.1h2.2v2.2h-2.2zM424.7 331.4h2.2v2.2h-2.2zM433.9 331.4h2.2v2.2h-2.2zM436.4 331.4h2.2v2.2h-2.2zM422.4 336.6h2.2v2.2h-2.2zM424.4 336.6h2.2v2.2h-2.2zM426.5 336.6h2.2v2.2h-2.2zM428.5 336.6h2.2v2.2h-2.2zM433.7 336.6h2.2v2.2h-2.2zM421.7 341.9h2.2v2.2h-2.2zM425.2 341.9h2.2v2.2h-2.2zM427.0 341.9h2.2v2.2h-2.2zM429.3 341.9h2.2v2.2h-2.2zM424.3 352.4h2.2v2.2h-2.2zM426.2 352.4h2.2v2.2h-2.2zM430.0 352.4h2.2v2.2h-2.2zM434.6 352.4h2.2v2.2h-2.2zM424.3 357.6h2.2v2.2h-2.2zM439.1 357.6h2.2v2.2h-2.2zM425.8 362.9h2.2v2.2h-2.2zM431.5 362.9h2.2v2.2h-2.2zM433.0 362.9h2.2v2.2h-2.2zM422.5 368.1h2.2v2.2h-2.2zM424.3 368.1h2.2v2.2h-2.2zM429.7 368.1h2.2v2.2h-2.2zM423.7 373.4h2.2v2.2h-2.2zM425.8 373.4h2.2v2.2h-2.2zM434.6 378.6h2.2v2.2h-2.2zM440.3 378.6h2.2v2.2h-2.2zM421.2 383.9h2.2v2.2h-2.2zM425.8 383.9h2.2v2.2h-2.2zM422.2 389.1h2.2v2.2h-2.2zM423.7 389.1h2.2v2.2h-2.2zM434.3 394.4h2.2v2.2h-2.2zM438.3 394.4h2.2v2.2h-2.2zM437.3 399.6h2.2v2.2h-2.2zM422.2 404.9h2.2v2.2h-2.2zM425.5 404.9h2.2v2.2h-2.2zM429.3 404.9h2.2v2.2h-2.2zM433.0 404.9h2.2v2.2h-2.2zM485.8 89.9h2.2v2.2h-2.2zM487.7 89.9h2.2v2.2h-2.2zM489.9 89.9h2.2v2.2h-2.2zM491.5 89.9h2.2v2.2h-2.2zM493.5 89.9h2.2v2.2h-2.2zM495.3 89.9h2.2v2.2h-2.2zM500.4 89.9h2.2v2.2h-2.2zM502.4 89.9h2.2v2.2h-2.2zM503.8 89.9h2.2v2.2h-2.2zM494.9 95.2h2.2v2.2h-2.2zM498.3 95.2h2.2v2.2h-2.2zM500.4 95.2h2.2v2.2h-2.2zM502.4 95.2h2.2v2.2h-2.2zM489.9 100.4h2.2v2.2h-2.2zM493.5 100.4h2.2v2.2h-2.2zM494.9 100.4h2.2v2.2h-2.2zM498.6 100.4h2.2v2.2h-2.2zM483.6 105.7h2.2v2.2h-2.2zM491.5 105.7h2.2v2.2h-2.2zM498.0 105.7h2.2v2.2h-2.2zM503.1 105.7h2.2v2.2h-2.2zM495.9 110.9h2.2v2.2h-2.2zM498.0 110.9h2.2v2.2h-2.2zM501.8 110.9h2.2v2.2h-2.2zM503.5 110.9h2.2v2.2h-2.2zM498.6 116.2h2.2v2.2h-2.2zM499.9 116.2h2.2v2.2h-2.2zM503.5 116.2h2.2v2.2h-2.2zM492.2 121.4h2.2v2.2h-2.2zM496.3 121.4h2.2v2.2h-2.2zM500.8 121.4h2.2v2.2h-2.2zM484.7 126.7h2.2v2.2h-2.2zM486.3 126.7h2.2v2.2h-2.2zM487.2 126.7h2.2v2.2h-2.2zM494.2 126.7h2.2v2.2h-2.2zM500.8 126.7h2.2v2.2h-2.2zM502.7 126.7h2.2v2.2h-2.2zM492.9 131.9h2.2v2.2h-2.2zM496.7 131.9h2.2v2.2h-2.2zM498.3 131.9h2.2v2.2h-2.2zM500.4 131.9h2.2v2.2h-2.2zM486.3 137.2h2.2v2.2h-2.2zM487.7 137.2h2.2v2.2h-2.2zM494.5 137.2h2.2v2.2h-2.2zM498.0 137.2h2.2v2.2h-2.2zM499.7 137.2h2.2v2.2h-2.2zM503.5 137.2h2.2v2.2h-2.2zM483.6 142.4h2.2v2.2h-2.2zM488.5 142.4h2.2v2.2h-2.2zM490.1 142.4h2.2v2.2h-2.2zM492.2 142.4h2.2v2.2h-2.2zM494.0 142.4h2.2v2.2h-2.2zM496.3 142.4h2.2v2.2h-2.2zM498.3 142.4h2.2v2.2h-2.2zM499.9 142.4h2.2v2.2h-2.2zM502.7 142.4h2.2v2.2h-2.2zM504.0 142.4h2.2v2.2h-2.2zM488.5 147.7h2.2v2.2h-2.2zM497.6 147.7h2.2v2.2h-2.2zM499.4 147.7h2.2v2.2h-2.2zM501.3 147.7h2.2v2.2h-2.2zM503.5 147.7h2.2v2.2h-2.2zM485.8 152.9h2.2v2.2h-2.2zM487.7 152.9h2.2v2.2h-2.2zM489.9 152.9h2.2v2.2h-2.2zM495.3 152.9h2.2v2.2h-2.2zM502.4 152.9h2.2v2.2h-2.2zM484.4 158.2h2.2v2.2h-2.2zM491.8 158.2h2.2v2.2h-2.2zM495.6 158.2h2.2v2.2h-2.2zM497.2 158.2h2.2v2.2h-2.2zM499.0 158.2h2.2v2.2h-2.2zM500.8 158.2h2.2v2.2h-2.2zM502.7 158.2h2.2v2.2h-2.2zM485.4 163.4h2.2v2.2h-2.2zM489.9 163.4h2.2v2.2h-2.2zM491.5 163.4h2.2v2.2h-2.2zM493.5 163.4h2.2v2.2h-2.2zM495.3 163.4h2.2v2.2h-2.2zM497.2 163.4h2.2v2.2h-2.2zM499.4 163.4h2.2v2.2h-2.2zM501.3 163.4h2.2v2.2h-2.2zM503.1 163.4h2.2v2.2h-2.2zM487.7 168.7h2.2v2.2h-2.2zM489.5 168.7h2.2v2.2h-2.2zM490.8 168.7h2.2v2.2h-2.2zM495.9 168.7h2.2v2.2h-2.2zM498.0 168.7h2.2v2.2h-2.2zM499.9 168.7h2.2v2.2h-2.2zM488.8 173.9h2.2v2.2h-2.2zM492.6 173.9h2.2v2.2h-2.2zM496.3 173.9h2.2v2.2h-2.2zM485.0 179.2h2.2v2.2h-2.2zM486.7 179.2h2.2v2.2h-2.2zM488.8 179.2h2.2v2.2h-2.2zM490.8 179.2h2.2v2.2h-2.2zM492.2 179.2h2.2v2.2h-2.2zM497.6 179.2h2.2v2.2h-2.2zM499.7 179.2h2.2v2.2h-2.2zM501.7 179.2h2.2v2.2h-2.2zM486.7 184.4h2.2v2.2h-2.2zM496.3 184.4h2.2v2.2h-2.2zM498.0 184.4h2.2v2.2h-2.2zM499.4 184.4h2.2v2.2h-2.2zM484.7 189.7h2.2v2.2h-2.2zM486.3 189.7h2.2v2.2h-2.2zM487.7 189.7h2.2v2.2h-2.2zM499.4 189.7h2.2v2.2h-2.2zM500.8 189.7h2.2v2.2h-2.2zM502.7 189.7h2.2v2.2h-2.2zM483.6 194.9h2.2v2.2h-2.2zM485.4 194.9h2.2v2.2h-2.2zM487.2 194.9h2.2v2.2h-2.2zM499.0 194.9h2.2v2.2h-2.2zM501.0 194.9h2.2v2.2h-2.2zM503.1 194.9h2.2v2.2h-2.2zM486.7 200.2h2.2v2.2h-2.2zM488.8 200.2h2.2v2.2h-2.2zM490.8 200.2h2.2v2.2h-2.2zM496.3 200.2h2.2v2.2h-2.2zM498.3 200.2h2.2v2.2h-2.2zM503.1 200.2h2.2v2.2h-2.2zM487.2 205.4h2.2v2.2h-2.2zM500.4 205.4h2.2v2.2h-2.2zM486.1 210.7h2.2v2.2h-2.2zM487.7 210.7h2.2v2.2h-2.2zM493.5 210.7h2.2v2.2h-2.2zM495.6 210.7h2.2v2.2h-2.2zM498.0 210.7h2.2v2.2h-2.2zM491.5 215.9h2.2v2.2h-2.2zM493.5 215.9h2.2v2.2h-2.2zM494.9 215.9h2.2v2.2h-2.2zM483.6 221.2h2.2v2.2h-2.2zM485.4 221.2h2.2v2.2h-2.2zM487.2 221.2h2.2v2.2h-2.2zM489.1 221.2h2.2v2.2h-2.2zM490.8 221.2h2.2v2.2h-2.2zM492.9 221.2h2.2v2.2h-2.2zM494.9 221.2h2.2v2.2h-2.2zM496.9 221.2h2.2v2.2h-2.2zM498.3 221.2h2.2v2.2h-2.2zM501.7 221.2h2.2v2.2h-2.2zM487.7 226.4h2.2v2.2h-2.2zM492.6 226.4h2.2v2.2h-2.2zM494.2 226.4h2.2v2.2h-2.2zM484.7 231.7h2.2v2.2h-2.2zM486.1 231.7h2.2v2.2h-2.2zM490.1 231.7h2.2v2.2h-2.2zM496.9 231.7h2.2v2.2h-2.2zM501.0 231.7h2.2v2.2h-2.2zM502.4 231.7h2.2v2.2h-2.2zM487.7 236.9h2.2v2.2h-2.2zM490.1 236.9h2.2v2.2h-2.2zM491.8 236.9h2.2v2.2h-2.2zM493.5 236.9h2.2v2.2h-2.2zM495.3 236.9h2.2v2.2h-2.2zM496.3 236.9h2.2v2.2h-2.2zM499.9 236.9h2.2v2.2h-2.2zM484.0 242.2h2.2v2.2h-2.2zM486.3 242.2h2.2v2.2h-2.2zM488.1 242.2h2.2v2.2h-2.2zM491.2 242.2h2.2v2.2h-2.2zM494.2 242.2h2.2v2.2h-2.2zM495.9 242.2h2.2v2.2h-2.2zM497.6 242.2h2.2v2.2h-2.2zM499.7 242.2h2.2v2.2h-2.2zM501.7 242.2h2.2v2.2h-2.2zM503.1 242.2h2.2v2.2h-2.2zM484.4 247.4h2.2v2.2h-2.2zM487.7 247.4h2.2v2.2h-2.2zM489.5 247.4h2.2v2.2h-2.2zM491.5 247.4h2.2v2.2h-2.2zM495.6 247.4h2.2v2.2h-2.2zM497.2 247.4h2.2v2.2h-2.2zM499.7 247.4h2.2v2.2h-2.2zM501.7 247.4h2.2v2.2h-2.2zM503.1 247.4h2.2v2.2h-2.2zM486.3 252.7h2.2v2.2h-2.2zM497.2 252.7h2.2v2.2h-2.2zM502.7 252.7h2.2v2.2h-2.2zM489.9 257.9h2.2v2.2h-2.2zM483.6 263.1h2.2v2.2h-2.2zM485.8 263.1h2.2v2.2h-2.2zM495.9 263.1h2.2v2.2h-2.2zM492.2 268.4h2.2v2.2h-2.2zM494.0 268.4h2.2v2.2h-2.2zM485.8 273.6h2.2v2.2h-2.2zM489.1 273.6h2.2v2.2h-2.2zM490.8 273.6h2.2v2.2h-2.2zM495.9 273.6h2.2v2.2h-2.2zM497.6 273.6h2.2v2.2h-2.2zM497.6 278.9h2.2v2.2h-2.2zM486.3 284.1h2.2v2.2h-2.2zM488.1 284.1h2.2v2.2h-2.2zM493.1 284.1h2.2v2.2h-2.2zM490.4 289.4h2.2v2.2h-2.2zM499.4 289.4h2.2v2.2h-2.2zM485.0 294.6h2.2v2.2h-2.2zM494.5 299.9h2.2v2.2h-2.2zM501.3 305.1h2.2v2.2h-2.2zM485.8 320.9h2.2v2.2h-2.2zM487.7 320.9h2.2v2.2h-2.2zM499.0 320.9h2.2v2.2h-2.2zM484.7 331.4h2.2v2.2h-2.2zM502.8 341.9h2.2v2.2h-2.2zM502.1 352.4h2.2v2.2h-2.2zM491.8 368.1h2.2v2.2h-2.2zM500.6 404.9h2.2v2.2h-2.2zM558.9 89.9h2.2v2.2h-2.2zM560.6 89.9h2.2v2.2h-2.2zM565.7 89.9h2.2v2.2h-2.2zM548.0 105.7h2.2v2.2h-2.2zM548.0 116.2h2.2v2.2h-2.2zM549.7 116.2h2.2v2.2h-2.2zM550.2 121.4h2.2v2.2h-2.2zM557.2 126.7h2.2v2.2h-2.2zM560.2 126.7h2.2v2.2h-2.2zM561.0 126.7h2.2v2.2h-2.2zM565.1 126.7h2.2v2.2h-2.2zM560.6 131.9h2.2v2.2h-2.2zM557.9 137.2h2.2v2.2h-2.2zM549.1 142.4h2.2v2.2h-2.2zM560.6 142.4h2.2v2.2h-2.2zM565.7 142.4h2.2v2.2h-2.2zM550.4 147.7h2.2v2.2h-2.2zM562.0 147.7h2.2v2.2h-2.2zM551.5 152.9h2.2v2.2h-2.2zM554.5 152.9h2.2v2.2h-2.2zM553.8 158.2h2.2v2.2h-2.2zM557.0 158.2h2.2v2.2h-2.2zM558.3 158.2h2.2v2.2h-2.2zM560.6 158.2h2.2v2.2h-2.2zM548.4 163.4h2.2v2.2h-2.2zM557.2 163.4h2.2v2.2h-2.2zM546.6 168.7h2.2v2.2h-2.2zM548.4 168.7h2.2v2.2h-2.2zM550.2 168.7h2.2v2.2h-2.2zM551.8 168.7h2.2v2.2h-2.2zM560.6 168.7h2.2v2.2h-2.2zM565.1 168.7h2.2v2.2h-2.2zM547.0 173.9h2.2v2.2h-2.2zM555.2 173.9h2.2v2.2h-2.2zM558.6 173.9h2.2v2.2h-2.2zM563.8 173.9h2.2v2.2h-2.2zM554.5 179.2h2.2v2.2h-2.2zM556.1 179.2h2.2v2.2h-2.2zM557.9 179.2h2.2v2.2h-2.2zM560.6 179.2h2.2v2.2h-2.2zM547.4 184.4h2.2v2.2h-2.2zM549.3 184.4h2.2v2.2h-2.2zM551.5 184.4h2.2v2.2h-2.2zM554.5 184.4h2.2v2.2h-2.2zM556.1 184.4h2.2v2.2h-2.2zM557.9 184.4h2.2v2.2h-2.2zM562.7 184.4h2.2v2.2h-2.2zM547.0 189.7h2.2v2.2h-2.2zM549.7 189.7h2.2v2.2h-2.2zM551.5 189.7h2.2v2.2h-2.2zM556.1 189.7h2.2v2.2h-2.2zM559.7 189.7h2.2v2.2h-2.2zM561.3 189.7h2.2v2.2h-2.2zM563.4 189.7h2.2v2.2h-2.2zM557.2 194.9h2.2v2.2h-2.2zM558.9 194.9h2.2v2.2h-2.2zM561.3 194.9h2.2v2.2h-2.2zM562.9 194.9h2.2v2.2h-2.2zM566.1 194.9h2.2v2.2h-2.2zM553.4 200.2h2.2v2.2h-2.2zM559.9 200.2h2.2v2.2h-2.2zM562.0 200.2h2.2v2.2h-2.2zM564.7 200.2h2.2v2.2h-2.2zM547.4 205.4h2.2v2.2h-2.2zM550.2 205.4h2.2v2.2h-2.2zM551.2 205.4h2.2v2.2h-2.2zM556.5 205.4h2.2v2.2h-2.2zM558.3 205.4h2.2v2.2h-2.2zM559.9 205.4h2.2v2.2h-2.2zM562.7 205.4h2.2v2.2h-2.2zM547.4 210.7h2.2v2.2h-2.2zM552.5 210.7h2.2v2.2h-2.2zM556.5 210.7h2.2v2.2h-2.2zM558.6 210.7h2.2v2.2h-2.2zM560.2 210.7h2.2v2.2h-2.2zM547.7 215.9h2.2v2.2h-2.2zM550.2 215.9h2.2v2.2h-2.2zM555.2 215.9h2.2v2.2h-2.2zM557.0 215.9h2.2v2.2h-2.2zM558.9 215.9h2.2v2.2h-2.2zM562.0 215.9h2.2v2.2h-2.2zM547.0 221.2h2.2v2.2h-2.2zM548.8 221.2h2.2v2.2h-2.2zM550.7 221.2h2.2v2.2h-2.2zM552.1 221.2h2.2v2.2h-2.2zM554.5 221.2h2.2v2.2h-2.2zM556.5 221.2h2.2v2.2h-2.2zM558.3 221.2h2.2v2.2h-2.2zM549.7 226.4h2.2v2.2h-2.2zM551.8 226.4h2.2v2.2h-2.2zM553.4 226.4h2.2v2.2h-2.2zM557.9 226.4h2.2v2.2h-2.2zM559.9 226.4h2.2v2.2h-2.2zM562.0 226.4h2.2v2.2h-2.2zM566.1 226.4h2.2v2.2h-2.2zM548.0 231.7h2.2v2.2h-2.2zM549.7 231.7h2.2v2.2h-2.2zM553.8 231.7h2.2v2.2h-2.2zM555.9 231.7h2.2v2.2h-2.2zM557.9 231.7h2.2v2.2h-2.2zM559.9 231.7h2.2v2.2h-2.2zM562.0 231.7h2.2v2.2h-2.2zM563.4 231.7h2.2v2.2h-2.2zM551.1 236.9h2.2v2.2h-2.2zM552.9 236.9h2.2v2.2h-2.2zM554.5 236.9h2.2v2.2h-2.2zM558.6 236.9h2.2v2.2h-2.2zM560.6 236.9h2.2v2.2h-2.2zM563.4 236.9h2.2v2.2h-2.2zM565.4 236.9h2.2v2.2h-2.2zM548.0 247.4h2.2v2.2h-2.2zM551.1 247.4h2.2v2.2h-2.2zM562.7 247.4h2.2v2.2h-2.2zM547.4 252.7h2.2v2.2h-2.2zM551.8 252.7h2.2v2.2h-2.2zM553.8 252.7h2.2v2.2h-2.2zM555.6 252.7h2.2v2.2h-2.2zM557.5 252.7h2.2v2.2h-2.2zM564.7 252.7h2.2v2.2h-2.2zM547.4 257.9h2.2v2.2h-2.2zM549.3 257.9h2.2v2.2h-2.2zM551.8 257.9h2.2v2.2h-2.2zM556.1 257.9h2.2v2.2h-2.2zM560.6 257.9h2.2v2.2h-2.2zM562.7 257.9h2.2v2.2h-2.2zM564.3 257.9h2.2v2.2h-2.2zM548.4 263.1h2.2v2.2h-2.2zM550.4 263.1h2.2v2.2h-2.2zM552.5 263.1h2.2v2.2h-2.2zM555.6 263.1h2.2v2.2h-2.2zM561.0 263.1h2.2v2.2h-2.2zM564.7 263.1h2.2v2.2h-2.2zM566.1 263.1h2.2v2.2h-2.2zM547.0 268.4h2.2v2.2h-2.2zM549.3 268.4h2.2v2.2h-2.2zM555.6 268.4h2.2v2.2h-2.2zM548.8 273.6h2.2v2.2h-2.2zM550.4 273.6h2.2v2.2h-2.2zM552.1 273.6h2.2v2.2h-2.2zM553.8 273.6h2.2v2.2h-2.2zM556.5 273.6h2.2v2.2h-2.2zM558.3 273.6h2.2v2.2h-2.2zM560.2 273.6h2.2v2.2h-2.2zM562.7 273.6h2.2v2.2h-2.2zM564.7 273.6h2.2v2.2h-2.2zM547.0 278.9h2.2v2.2h-2.2zM554.2 278.9h2.2v2.2h-2.2zM556.1 278.9h2.2v2.2h-2.2zM561.0 278.9h2.2v2.2h-2.2zM546.6 284.1h2.2v2.2h-2.2zM550.7 284.1h2.2v2.2h-2.2zM552.5 284.1h2.2v2.2h-2.2zM554.2 284.1h2.2v2.2h-2.2zM556.1 284.1h2.2v2.2h-2.2zM557.9 284.1h2.2v2.2h-2.2zM561.0 284.1h2.2v2.2h-2.2zM565.1 284.1h2.2v2.2h-2.2zM555.9 289.4h2.2v2.2h-2.2zM557.9 289.4h2.2v2.2h-2.2zM559.7 289.4h2.2v2.2h-2.2zM561.3 289.4h2.2v2.2h-2.2zM563.4 289.4h2.2v2.2h-2.2zM547.4 294.6h2.2v2.2h-2.2zM554.2 294.6h2.2v2.2h-2.2zM547.0 299.9h2.2v2.2h-2.2zM558.6 299.9h2.2v2.2h-2.2zM560.6 299.9h2.2v2.2h-2.2zM562.7 299.9h2.2v2.2h-2.2zM549.7 305.1h2.2v2.2h-2.2zM553.8 305.1h2.2v2.2h-2.2zM558.6 305.1h2.2v2.2h-2.2zM563.4 305.1h2.2v2.2h-2.2zM565.1 305.1h2.2v2.2h-2.2zM557.2 310.4h2.2v2.2h-2.2zM563.8 310.4h2.2v2.2h-2.2zM546.6 315.6h2.2v2.2h-2.2zM563.4 315.6h2.2v2.2h-2.2zM557.0 320.9h2.2v2.2h-2.2zM562.4 320.9h2.2v2.2h-2.2zM565.7 320.9h2.2v2.2h-2.2zM547.0 326.1h2.2v2.2h-2.2zM549.7 326.1h2.2v2.2h-2.2zM554.2 326.1h2.2v2.2h-2.2zM562.7 326.1h2.2v2.2h-2.2zM565.1 326.1h2.2v2.2h-2.2zM547.0 331.4h2.2v2.2h-2.2zM553.1 331.4h2.2v2.2h-2.2zM554.5 331.4h2.2v2.2h-2.2zM564.0 336.6h2.2v2.2h-2.2zM549.7 341.9h2.2v2.2h-2.2zM553.8 341.9h2.2v2.2h-2.2zM556.3 341.9h2.2v2.2h-2.2zM558.3 341.9h2.2v2.2h-2.2zM547.7 352.4h2.2v2.2h-2.2zM556.0 357.6h2.2v2.2h-2.2zM557.2 357.6h2.2v2.2h-2.2zM556.0 368.1h2.2v2.2h-2.2zM558.7 378.6h2.2v2.2h-2.2zM556.0 389.1h2.2v2.2h-2.2zM556.8 394.4h2.2v2.2h-2.2zM557.5 399.6h2.2v2.2h-2.2zM559.8 404.9h2.2v2.2h-2.2zM562.1 404.9h2.2v2.2h-2.2zM564.3 404.9h2.2v2.2h-2.2zM611.8 89.9h2.2v2.2h-2.2zM615.9 89.9h2.2v2.2h-2.2zM617.2 89.9h2.2v2.2h-2.2zM620.9 89.9h2.2v2.2h-2.2zM622.9 89.9h2.2v2.2h-2.2zM609.3 110.9h2.2v2.2h-2.2zM612.1 110.9h2.2v2.2h-2.2zM616.4 110.9h2.2v2.2h-2.2zM611.4 116.2h2.2v2.2h-2.2zM617.8 116.2h2.2v2.2h-2.2zM627.7 116.2h2.2v2.2h-2.2zM628.4 131.9h2.2v2.2h-2.2zM610.4 137.2h2.2v2.2h-2.2zM610.4 142.4h2.2v2.2h-2.2zM618.9 142.4h2.2v2.2h-2.2zM611.4 147.7h2.2v2.2h-2.2zM612.7 147.7h2.2v2.2h-2.2zM615.9 147.7h2.2v2.2h-2.2zM616.8 147.7h2.2v2.2h-2.2zM629.5 147.7h2.2v2.2h-2.2zM613.2 152.9h2.2v2.2h-2.2zM628.7 152.9h2.2v2.2h-2.2zM609.3 158.2h2.2v2.2h-2.2zM611.4 158.2h2.2v2.2h-2.2zM613.4 158.2h2.2v2.2h-2.2zM619.1 158.2h2.2v2.2h-2.2zM620.9 158.2h2.2v2.2h-2.2zM628.7 158.2h2.2v2.2h-2.2zM613.4 163.4h2.2v2.2h-2.2zM625.4 163.4h2.2v2.2h-2.2zM609.3 168.7h2.2v2.2h-2.2zM613.4 168.7h2.2v2.2h-2.2zM615.1 168.7h2.2v2.2h-2.2zM618.2 168.7h2.2v2.2h-2.2zM620.0 168.7h2.2v2.2h-2.2zM621.9 168.7h2.2v2.2h-2.2zM626.4 168.7h2.2v2.2h-2.2zM628.4 168.7h2.2v2.2h-2.2zM610.0 173.9h2.2v2.2h-2.2zM611.4 173.9h2.2v2.2h-2.2zM615.1 173.9h2.2v2.2h-2.2zM617.8 173.9h2.2v2.2h-2.2zM620.9 173.9h2.2v2.2h-2.2zM623.6 173.9h2.2v2.2h-2.2zM613.2 179.2h2.2v2.2h-2.2zM618.9 179.2h2.2v2.2h-2.2zM620.0 179.2h2.2v2.2h-2.2zM617.2 184.4h2.2v2.2h-2.2zM618.9 184.4h2.2v2.2h-2.2zM624.6 184.4h2.2v2.2h-2.2zM626.8 184.4h2.2v2.2h-2.2zM617.8 189.7h2.2v2.2h-2.2zM619.5 189.7h2.2v2.2h-2.2zM620.9 189.7h2.2v2.2h-2.2zM627.7 189.7h2.2v2.2h-2.2zM610.0 194.9h2.2v2.2h-2.2zM612.3 194.9h2.2v2.2h-2.2zM616.4 194.9h2.2v2.2h-2.2zM618.2 194.9h2.2v2.2h-2.2zM625.7 194.9h2.2v2.2h-2.2zM627.7 194.9h2.2v2.2h-2.2zM611.4 200.2h2.2v2.2h-2.2zM621.3 200.2h2.2v2.2h-2.2zM622.9 200.2h2.2v2.2h-2.2zM618.6 205.4h2.2v2.2h-2.2zM622.3 205.4h2.2v2.2h-2.2zM626.8 205.4h2.2v2.2h-2.2zM628.7 205.4h2.2v2.2h-2.2zM610.7 210.7h2.2v2.2h-2.2zM612.3 210.7h2.2v2.2h-2.2zM614.1 210.7h2.2v2.2h-2.2zM615.9 210.7h2.2v2.2h-2.2zM617.5 210.7h2.2v2.2h-2.2zM621.6 210.7h2.2v2.2h-2.2zM623.6 210.7h2.2v2.2h-2.2zM629.1 210.7h2.2v2.2h-2.2zM611.4 215.9h2.2v2.2h-2.2zM613.4 215.9h2.2v2.2h-2.2zM622.3 215.9h2.2v2.2h-2.2zM624.3 215.9h2.2v2.2h-2.2zM626.4 215.9h2.2v2.2h-2.2zM611.4 221.2h2.2v2.2h-2.2zM613.4 221.2h2.2v2.2h-2.2zM617.5 221.2h2.2v2.2h-2.2zM619.5 221.2h2.2v2.2h-2.2zM621.6 221.2h2.2v2.2h-2.2zM623.6 221.2h2.2v2.2h-2.2zM625.0 221.2h2.2v2.2h-2.2zM629.1 221.2h2.2v2.2h-2.2zM609.3 226.4h2.2v2.2h-2.2zM611.8 226.4h2.2v2.2h-2.2zM615.9 226.4h2.2v2.2h-2.2zM621.3 226.4h2.2v2.2h-2.2zM609.6 231.7h2.2v2.2h-2.2zM612.7 231.7h2.2v2.2h-2.2zM625.7 231.7h2.2v2.2h-2.2zM612.1 236.9h2.2v2.2h-2.2zM614.1 236.9h2.2v2.2h-2.2zM625.0 236.9h2.2v2.2h-2.2zM628.1 236.9h2.2v2.2h-2.2zM611.8 242.2h2.2v2.2h-2.2zM613.7 242.2h2.2v2.2h-2.2zM622.3 242.2h2.2v2.2h-2.2zM625.0 242.2h2.2v2.2h-2.2zM611.4 247.4h2.2v2.2h-2.2zM613.2 247.4h2.2v2.2h-2.2zM614.8 247.4h2.2v2.2h-2.2zM616.8 247.4h2.2v2.2h-2.2zM620.2 247.4h2.2v2.2h-2.2zM622.3 247.4h2.2v2.2h-2.2zM624.3 247.4h2.2v2.2h-2.2zM625.7 247.4h2.2v2.2h-2.2zM611.4 252.7h2.2v2.2h-2.2zM614.5 252.7h2.2v2.2h-2.2zM616.8 252.7h2.2v2.2h-2.2zM618.6 252.7h2.2v2.2h-2.2zM622.7 252.7h2.2v2.2h-2.2zM624.3 252.7h2.2v2.2h-2.2zM626.4 252.7h2.2v2.2h-2.2zM628.7 252.7h2.2v2.2h-2.2zM616.1 257.9h2.2v2.2h-2.2zM618.2 257.9h2.2v2.2h-2.2zM622.3 257.9h2.2v2.2h-2.2zM610.4 263.1h2.2v2.2h-2.2zM617.5 263.1h2.2v2.2h-2.2zM619.5 263.1h2.2v2.2h-2.2zM621.6 263.1h2.2v2.2h-2.2zM610.0 268.4h2.2v2.2h-2.2zM616.8 268.4h2.2v2.2h-2.2zM618.2 268.4h2.2v2.2h-2.2zM622.9 268.4h2.2v2.2h-2.2zM610.7 273.6h2.2v2.2h-2.2zM612.3 273.6h2.2v2.2h-2.2zM614.5 273.6h2.2v2.2h-2.2zM616.8 273.6h2.2v2.2h-2.2zM614.5 278.9h2.2v2.2h-2.2zM626.4 278.9h2.2v2.2h-2.2zM627.7 278.9h2.2v2.2h-2.2zM611.8 284.1h2.2v2.2h-2.2zM613.2 284.1h2.2v2.2h-2.2zM620.5 284.1h2.2v2.2h-2.2zM622.7 284.1h2.2v2.2h-2.2zM624.6 284.1h2.2v2.2h-2.2zM616.4 289.4h2.2v2.2h-2.2zM619.1 289.4h2.2v2.2h-2.2zM625.7 289.4h2.2v2.2h-2.2zM627.0 289.4h2.2v2.2h-2.2zM614.5 294.6h2.2v2.2h-2.2zM616.4 294.6h2.2v2.2h-2.2zM618.2 294.6h2.2v2.2h-2.2zM610.0 299.9h2.2v2.2h-2.2zM612.7 299.9h2.2v2.2h-2.2zM617.8 299.9h2.2v2.2h-2.2zM620.0 299.9h2.2v2.2h-2.2zM625.7 299.9h2.2v2.2h-2.2zM627.7 299.9h2.2v2.2h-2.2zM617.2 305.1h2.2v2.2h-2.2zM619.1 305.1h2.2v2.2h-2.2zM621.3 305.1h2.2v2.2h-2.2zM614.5 310.4h2.2v2.2h-2.2zM616.1 310.4h2.2v2.2h-2.2zM618.2 310.4h2.2v2.2h-2.2zM620.0 310.4h2.2v2.2h-2.2zM627.7 310.4h2.2v2.2h-2.2zM618.2 315.6h2.2v2.2h-2.2zM620.0 315.6h2.2v2.2h-2.2zM621.6 315.6h2.2v2.2h-2.2zM623.6 315.6h2.2v2.2h-2.2zM629.5 315.6h2.2v2.2h-2.2zM620.2 320.9h2.2v2.2h-2.2zM622.3 320.9h2.2v2.2h-2.2zM624.0 320.9h2.2v2.2h-2.2zM628.1 320.9h2.2v2.2h-2.2zM611.4 326.1h2.2v2.2h-2.2zM619.5 326.1h2.2v2.2h-2.2zM621.3 326.1h2.2v2.2h-2.2zM613.2 331.4h2.2v2.2h-2.2zM614.5 331.4h2.2v2.2h-2.2zM620.9 331.4h2.2v2.2h-2.2zM628.1 331.4h2.2v2.2h-2.2zM622.9 336.6h2.2v2.2h-2.2zM625.4 336.6h2.2v2.2h-2.2zM623.6 341.9h2.2v2.2h-2.2zM616.8 347.1h2.2v2.2h-2.2zM620.2 347.1h2.2v2.2h-2.2zM622.3 347.1h2.2v2.2h-2.2zM623.9 347.1h2.2v2.2h-2.2zM611.2 352.4h2.2v2.2h-2.2zM612.7 352.4h2.2v2.2h-2.2zM619.8 352.4h2.2v2.2h-2.2zM615.2 357.6h2.2v2.2h-2.2zM623.6 357.6h2.2v2.2h-2.2zM613.3 362.9h2.2v2.2h-2.2zM616.0 362.9h2.2v2.2h-2.2zM620.8 368.1h2.2v2.2h-2.2zM625.8 368.1h2.2v2.2h-2.2zM617.2 378.6h2.2v2.2h-2.2zM622.3 378.6h2.2v2.2h-2.2zM628.8 378.6h2.2v2.2h-2.2zM617.8 389.1h2.2v2.2h-2.2zM621.3 389.1h2.2v2.2h-2.2zM620.5 404.9h2.2v2.2h-2.2zM624.3 404.9h2.2v2.2h-2.2zM628.1 404.9h2.2v2.2h-2.2z" fill="#222"/><path d="M118.80 275.10V290.80M112.80 275.10h12M112.80 290.80h12" stroke="#000" stroke-width="1.5" fill="none"/><rect x="115.70" y="279.90" width="6.2" height="6.2" fill="#000"/><path d="M181.60 190.70V204.30M175.60 190.70h12M175.60 204.30h12" stroke="#000" stroke-width="1.5" fill="none"/><rect x="178.50" y="194.10" width="6.2" height="6.2" fill="#000"/><path d="M244.00 238.30V253.90M238.00 238.30h12M238.00 253.90h12" stroke="#000" stroke-width="1.5" fill="none"/><rect x="240.90" y="242.60" width="6.2" height="6.2" fill="#000"/><path d="M307.10 249.80V265.20M301.10 249.80h12M301.10 265.20h12" stroke="#000" stroke-width="1.5" fill="none"/><rect x="304.00" y="254.20" width="6.2" height="6.2" fill="#000"/><path d="M432.10 264.60V278.60M426.10 264.60h12M426.10 278.60h12" stroke="#000" stroke-width="1.5" fill="none"/><rect x="429.00" y="268.20" width="6.2" height="6.2" fill="#000"/><path d="M495.50 188.10V201.90M489.50 188.10h12M489.50 201.90h12" stroke="#000" stroke-width="1.5" fill="none"/><rect x="492.40" y="191.50" width="6.2" height="6.2" fill="#000"/><path d="M557.90 235.70V249.70M551.90 235.70h12M551.90 249.70h12" stroke="#000" stroke-width="1.5" fill="none"/><rect x="554.80" y="239.90" width="6.2" height="6.2" fill="#000"/><path d="M621.20 232.40V245.70M615.20 232.40h12M615.20 245.70h12" stroke="#000" stroke-width="1.5" fill="none"/><rect x="618.10" y="236.70" width="6.2" height="6.2" fill="#000"/><path d="M56 61.3V406.2H684" stroke="#282828" stroke-width="1.5" fill="none"/><path d="M56 406.00h3.5" stroke="#333333" stroke-width="1.4"/><text x="48.5" y="412.00" text-anchor="end" font-size="18">0</text><path d="M56 343.00h3.5" stroke="#333333" stroke-width="1.4"/><text x="48.5" y="349.00" text-anchor="end" font-size="18">2</text><path d="M56 280.00h3.5" stroke="#333333" stroke-width="1.4"/><text x="48.5" y="286.00" text-anchor="end" font-size="18">4</text><path d="M56 217.00h3.5" stroke="#333333" stroke-width="1.4"/><text x="48.5" y="223.00" text-anchor="end" font-size="18">6</text><path d="M56 154.00h3.5" stroke="#333333" stroke-width="1.4"/><text x="48.5" y="160.00" text-anchor="end" font-size="18">8</text><path d="M56 91.00h3.5" stroke="#333333" stroke-width="1.4"/><text x="48.5" y="97.00" text-anchor="end" font-size="18">10</text><text x="213.5" y="431.5" text-anchor="middle" font-size="18">Person</text><text x="525.9" y="431" text-anchor="middle" font-size="18">Media</text><text x="369.5" y="461.8" text-anchor="middle" font-size="21.4">Source</text><text transform="translate(16.9 235.9) rotate(-90)" text-anchor="middle" font-size="21.4">Misinformation Reliance</text><text x="369.3" y="16.8" text-anchor="middle" font-size="21.4">Condition</text><rect x="67.85" y="25.65" width="13.6" height="16" rx="1.5" fill="#d9d9d9" stroke="#222" stroke-width="1.5"/><rect x="70.90" y="30.8" width="6.8" height="6.7" fill="#000"/><text x="86.7" y="42" font-size="18">Control</text><rect x="167.75" y="25.65" width="13.6" height="16" rx="1.5" fill="#ff0000" stroke="#222" stroke-width="1.5"/><rect x="170.80" y="30.8" width="6.8" height="6.7" fill="#000"/><text x="186.3" y="42" font-size="18">Misinformation</text><rect x="326.45" y="25.65" width="13.6" height="16" rx="1.5" fill="#ffc000" stroke="#222" stroke-width="1.5"/><rect x="329.50" y="30.8" width="6.8" height="6.7" fill="#000"/><text x="344.8" y="42" font-size="18">CoI Discreditation</text><rect x="509.85" y="25.65" width="13.6" height="16" rx="1.5" fill="#ff00ff" stroke="#222" stroke-width="1.5"/><rect x="512.90" y="30.8" width="6.8" height="6.7" fill="#000"/><text x="529.3" y="42" font-size="18">TR Discreditation</text></svg>
</body></html>
